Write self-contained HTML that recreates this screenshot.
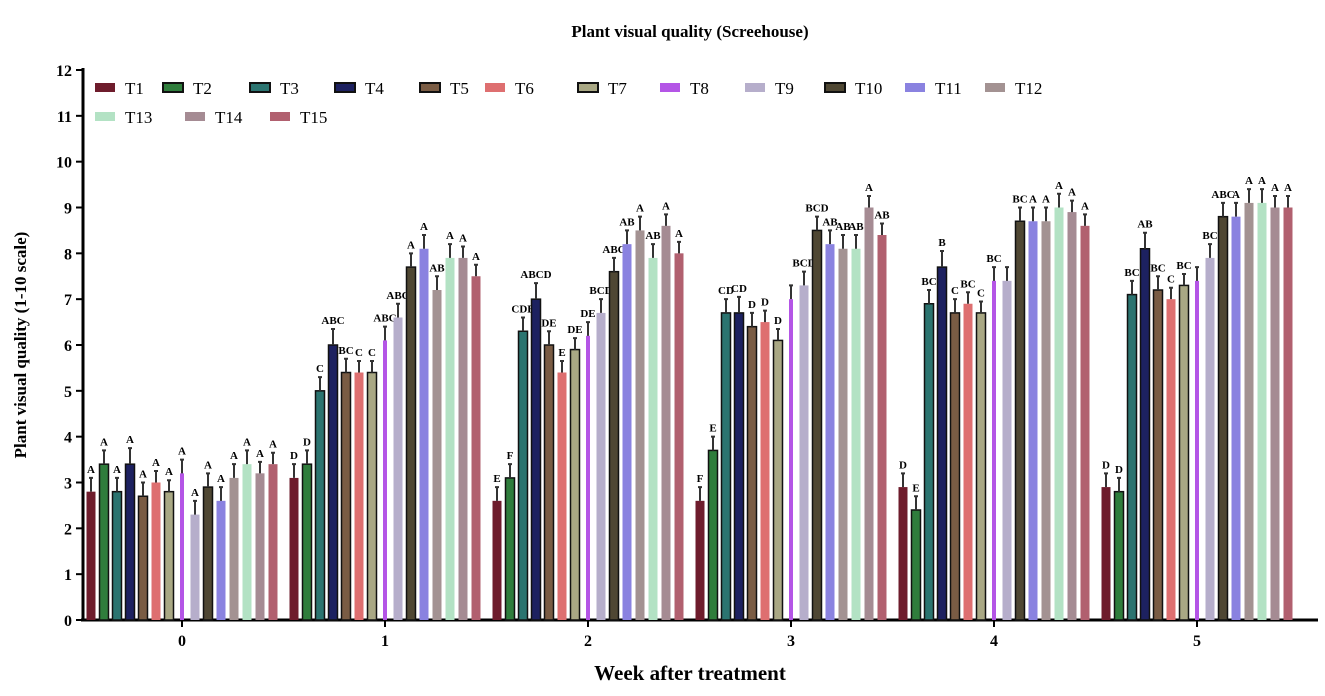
<!DOCTYPE html>
<html><head><meta charset="utf-8"><style>
html,body{margin:0;padding:0;background:#fff;}
svg{display:block;font-family:"Liberation Serif",serif;}
</style></head><body>
<svg id="chart" width="1325" height="696" viewBox="0 0 1325 696">
<text x="690" y="37" text-anchor="middle" font-size="17" font-weight="bold">Plant visual quality (Screehouse)</text>
<text x="690" y="680" text-anchor="middle" font-size="21" font-weight="bold">Week after treatment</text>
<text transform="translate(26,345) rotate(-90)" text-anchor="middle" font-size="17" font-weight="bold">Plant visual quality (1-10 scale)</text>
<g id="plot"></g>
</svg>
<script>
const categories=["0","1","2","3","4","5"];
const series=["T1","T2","T3","T4","T5","T6","T7","T8","T9","T10","T11","T12","T13","T14","T15"];
const yTicks=[0,1,2,3,4,5,6,7,8,9,10,11,12];
const week0=[2.8,3.4,2.8,3.4,2.7,3.0,2.8,3.2,2.3,2.9,2.6,3.1,3.4,3.2,3.4];
const week1=[3.1,3.4,5.0,6.0,5.4,5.4,5.4,6.1,6.6,7.7,8.1,7.2,7.9,7.9,7.5];
const week2=[2.6,3.1,6.3,7.0,6.0,5.4,5.9,6.2,6.7,7.6,8.2,8.5,7.9,8.6,8.0];
const week3=[2.6,3.7,6.7,6.7,6.4,6.5,6.1,7.0,7.3,8.5,8.2,8.1,8.1,9.0,8.4];
const week4=[2.9,2.4,6.9,7.7,6.7,6.9,6.7,7.4,7.4,8.7,8.7,8.7,9.0,8.9,8.6];
const week5=[2.9,2.8,7.1,8.1,7.2,7.0,7.3,7.4,7.9,8.8,8.8,9.1,9.1,9.0,9.0];
const errors=[0.3,0.3,0.3,0.35,0.3,0.25,0.25,0.3,0.3,0.3,0.3,0.3,0.3,0.25,0.25];
const letters0=["A","A","A","A","A","A","A","A","A","A","A","A","A","A","A"];
const letters1=["D","D","C","ABC","BC","C","C","ABC","ABC","A","A","AB","A","A","A"];
const letters2=["E","F","CDE","ABCD","DE","E","DE","DE","BCD","ABC","AB","A","AB","A","A"];
const letters3=["F","E","CD","CD","D","D","D","","BCD","BCD","AB","AB","AB","A","AB"];
const letters4=["D","E","BC","B","C","BC","C","BC","","BC","A","A","A","A","A"];
const letters5=["D","D","BC","AB","BC","C","BC","","BC","ABC","A","A","A","A","A"];
const values=[week0,week1,week2,week3,week4,week5];
const letters=[letters0,letters1,letters2,letters3,letters4,letters5];
const colors=["#6e1c2c","#2f7d3c","#2b7470","#1d2160","#7a5c44","#de6f70","#a9a884","#b455e6","#b6aecb","#4f4733","#8a82e0","#a39292","#b3e2c4","#a58b93","#b1606f"];
const strokes=[0,1,1,1,1,0,1,0,0,1,0,0,0,0,0];
const NS="http://www.w3.org/2000/svg";
const plot=document.getElementById('plot');
const X0=83,Y0=620,YT=70,YMAX=12;
const y=v=>Y0-(v/YMAX)*(Y0-YT);
const groupX=i=>182+i*203;
const barX=(g,s)=>groupX(g)+(s-7)*13;
function el(t,a){const e=document.createElementNS(NS,t);for(const k in a)e.setAttribute(k,a[k]);plot.appendChild(e);return e;}
// axes
let ax=el('line',{x1:X0,y1:YT-2,x2:X0,y2:Y0,stroke:'#000','stroke-width':3});


let bx=el('line',{x1:X0-2,y1:Y0,x2:1318,y2:Y0,stroke:'#000','stroke-width':3});


yTicks.forEach(t=>{
  const tk=el('line',{x1:X0-7,y1:y(t),x2:X0,y2:y(t),stroke:'#000','stroke-width':2});
  
  
  const tx=el('text',{x:X0-11,y:y(t)+6,'text-anchor':'end','font-size':16,'font-weight':'bold'});
  tx.textContent=t;
  
  
});
categories.forEach((c,g)=>{
  const tk=el('line',{x1:groupX(g),y1:Y0,x2:groupX(g),y2:Y0+7,stroke:'#000','stroke-width':2});
  
  
  const tx=el('text',{x:groupX(g),y:Y0+26,'text-anchor':'middle','font-size':16,'font-weight':'bold'});
  tx.textContent=c;
  
  
  series.forEach((s,i)=>{
    const v=values[g][i],cx=barX(g,i),w=(i===7)?4:9;
    const r=el('rect',{x:cx-w/2,y:y(v),width:w,height:Y0-y(v),fill:colors[i],stroke:strokes[i]?'#111':'none','stroke-width':1.5});
    
    
    const e=errors[i];
    const eb=el('path',{d:`M${cx} ${y(v)} V${y(v+e)} M${cx-2} ${y(v+e)} H${cx+2}`,stroke:'#333','stroke-width':2,fill:'none'});
    
    
    const L=letters[g][i];
    if(L){const lt=el('text',{x:cx,y:y(v+e)-5,'text-anchor':'middle','font-size':11,'font-weight':'bold'});
      lt.textContent=L;
      
      }
  });
});
// legend
const legX=[95,163,250,335,420,485,578,660,745,825,905,985,95,185,270];
series.forEach((s,i)=>{
  const ly=i<12?88:117;
  const sw=el('rect',{x:legX[i],y:ly-5,width:20,height:9,fill:colors[i],stroke:strokes[i]?'#111':'none','stroke-width':2});
  
  
  const t=el('text',{x:legX[i]+30,y:ly+6,'font-size':17});
  t.textContent=s;
  
  
});
</script>
</body></html>
